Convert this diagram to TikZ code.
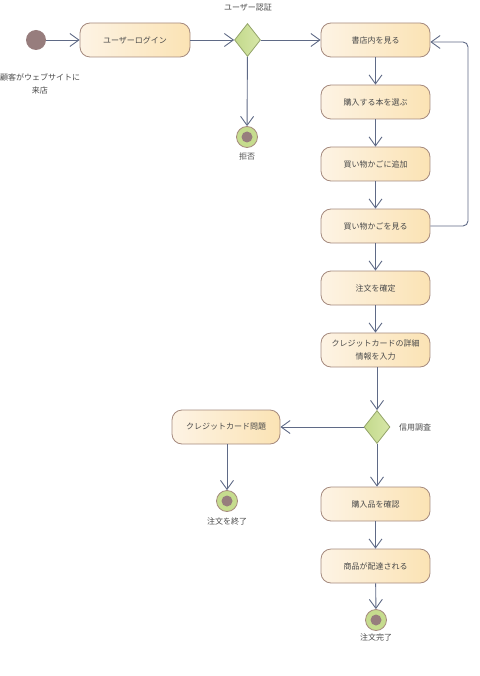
\documentclass[tikz,border=0pt]{standalone}
\usepackage{fontspec}
\setmainfont{Noto Sans CJK JP}
\usetikzlibrary{arrows.meta,shapes.geometric}
\definecolor{boxl}{HTML}{FDF3E4}
\definecolor{boxr}{HTML}{FBE3B4}
\definecolor{boxd}{HTML}{A58A7E}
\definecolor{edge}{HTML}{5F6A86}
\definecolor{startc}{HTML}{977D7D}
\definecolor{fing}{HTML}{C6DC8E}
\definecolor{dial}{HTML}{C3D98C}
\definecolor{diar}{HTML}{D7E7A8}
\definecolor{diad}{HTML}{94A46A}
\definecolor{txt}{HTML}{4A4A4A}
\tikzset{
  act/.style={draw=boxd, line width=0.8pt, rounded corners=10pt, left color=boxl, right color=boxr,
    minimum width=109pt, minimum height=34pt, inner sep=0pt, align=center,
    font=\fontsize{8}{13}\selectfont, text=txt},
  dec/.style={diamond, draw=diad, line width=0.8pt, left color=dial, right color=diar,
    minimum width=26pt, minimum height=33pt, inner sep=0pt, aspect=0.78},
  startn/.style={circle, fill=startc, minimum size=20pt, inner sep=0pt},
  finn/.style={circle, draw=boxd, line width=0.8pt, fill=fing, minimum size=21pt, inner sep=0pt,
    path picture={\fill[startc] (path picture bounding box.center) circle (5.5pt);}},
  lbl/.style={font=\fontsize{8}{13}\selectfont, text=txt, align=center, inner sep=0pt},
  flow/.style={draw=edge, line width=0.9pt, -{Straight Barb[length=9pt, width=13pt, line width=0.9pt]}}
}
\begin{document}
\begin{tikzpicture}[x=1pt, y=-1pt]
\useasboundingbox (0,0) rectangle (479,676);
\node[startn] (start) at (36,40) {};
\node[lbl] (startl) at (40,84) {顧客がウェブサイトに\\来店};
\node[act, minimum width=110pt] (login) at (135,40) {ユーザーログイン};
\node[dec] (auth) at (247.5,40) {};
\node[lbl] (authl) at (248,8) {ユーザー認証};
\node[finn] (rej) at (247,137) {};
\node[lbl] (rejl) at (247,156) {拒否};
\node[act] (browse) at (375.5,40) {書店内を見る};
\node[act] (select) at (375.5,102) {購入する本を選ぶ};
\node[act] (add) at (375.5,164) {買い物かごに追加};
\node[act] (view) at (375.5,226) {買い物かごを見る};
\node[act] (confirm) at (375.5,288) {注文を確定};
\node[act] (card) at (375.5,350) {クレジットカードの詳細\\情報を入力};
\node[dec] (credit) at (377,427) {};
\node[lbl, anchor=west] (creditl) at (399,427) {信用調査};
\node[act, minimum width=108pt] (prob) at (226,427) {クレジットカード問題};
\node[finn] (endc) at (227,501) {};
\node[lbl] (endcl) at (227,521) {注文を終了};
\node[act] (check) at (375.5,504) {購入品を確認};
\node[act] (deliv) at (375.5,566) {商品が配達される};
\node[finn] (done) at (376,620) {};
\node[lbl] (donel) at (376,637) {注文完了};
\coordinate (lr1) at (468,226);
\coordinate (lr2) at (468,42);
\path[flow] (start) -- (login);
\path[flow] (login) -- (auth);
\path[flow] (auth) -- (browse);
\path[flow] (auth) -- (rej);
\path[flow] (browse) -- (select);
\path[flow] (select) -- (add);
\path[flow] (add) -- (view);
\path[flow] (view) -- (confirm);
\path[flow] (confirm) -- (card);
\path[flow] (card.south -| credit) -- (credit);
\path[flow] (credit) -- (prob);
\path[flow] (credit) -- (check.north -| credit);
\path[flow] (prob.south -| endc) -- (endc);
\path[flow] (check) -- (deliv);
\path[flow] (deliv) -- (done);
\path[flow, rounded corners=5pt] (view.east) -- (lr1) -- (lr2) -- (browse.east |- lr2);
\end{tikzpicture}
\end{document}
